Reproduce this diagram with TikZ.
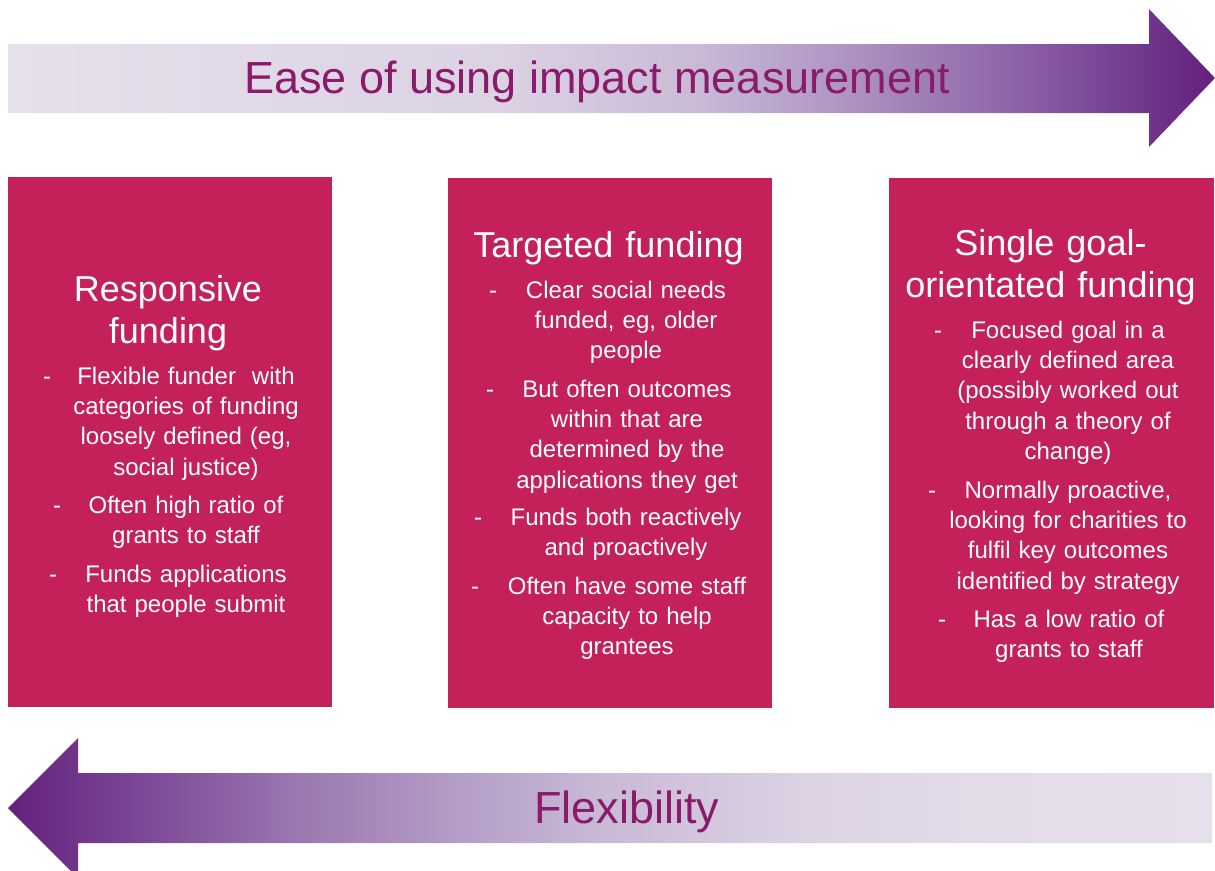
\documentclass[tikz,border=0pt]{standalone}
\usepackage{fontspec}
\setmainfont{Liberation Sans}
\definecolor{lav}{HTML}{E6E0EC}
\definecolor{lavb}{HTML}{DBD2E3}
\definecolor{lavc}{HTML}{C9B9D6}
\definecolor{lavd}{HTML}{AD93C2}
\definecolor{lave}{HTML}{9068AA}
\definecolor{lavf}{HTML}{70358B}
\definecolor{pdark}{HTML}{63207E}
\definecolor{fa}{HTML}{7E4B98}
\definecolor{fb}{HTML}{9A78B1}
\definecolor{fc}{HTML}{B39CC6}
\definecolor{fd}{HTML}{C8B9D5}
\definecolor{fe}{HTML}{DCD2E3}
\definecolor{ff}{HTML}{E3DCE9}
\definecolor{boxred}{HTML}{C4205A}
\definecolor{plumtext}{HTML}{8A1A6A}
\pgfdeclarehorizontalshading{easeshade}{100bp}{color(0bp)=(lav); color(25bp)=(lav); color(45.4bp)=(lavb); color(53.7bp)=(lavc); color(59.9bp)=(lavd); color(66.1bp)=(lave); color(72.3bp)=(lavf); color(75bp)=(pdark); color(100bp)=(pdark)}
\pgfdeclarehorizontalshading{flexshade}{100bp}{color(0bp)=(pdark); color(25bp)=(pdark); color(31bp)=(fa); color(37bp)=(fb); color(43.5bp)=(fc); color(49.5bp)=(fd); color(58bp)=(fe); color(66bp)=(ff); color(75bp)=(lav); color(100bp)=(lav)}
\newcommand\bodysize{\fontsize{18pt}{22.8pt}\selectfont}
\newcommand\titlesize{\fontsize{27pt}{31.5pt}\selectfont}
\newcommand\arrowsize{\fontsize{33.75pt}{40pt}\selectfont}
\tikzset{
  box/.style={fill=boxred, draw=none, anchor=north west, minimum width=243pt, minimum height=397.5pt, inner sep=0pt},
  bullettext/.style={text=white, font=\bodysize, align=center, anchor=base, inner sep=0pt, text width=230pt},
  titletext/.style={text=white, font=\titlesize, align=center, anchor=base, inner sep=0pt, text width=240pt},
  dashmark/.style={text=white, font=\bodysize, anchor=base, inner sep=0pt},
  arrowtext/.style={text=plumtext, font=\arrowsize, anchor=base, inner sep=0pt}
}
\begin{document}
\begin{tikzpicture}[x=0.75pt, y=-0.75pt]
\useasboundingbox (0,0) rectangle (1215,871);
\clip (0,0) rectangle (1215,871);
% arrows
\path[shading=easeshade] (8,44) -- (1149,44) -- (1149,9) -- (1215,78) -- (1149,147) -- (1149,113) -- (8,113) -- cycle;
\path[shading=flexshade] (1212,773) -- (78,773) -- (78,738) -- (8,808) -- (78,878) -- (78,843) -- (1212,843) -- cycle;
\node[arrowtext] (ease) at (597,93) {Ease of using impact measurement};
\node[arrowtext] (flex) at (627,823) {Flexibility};
% boxes
\node[box] (box1) at (8,177) {};
\node[box] (box2) at (448,178) {};
\node[box, minimum width=243.75pt] (box3) at (889,178) {};
% box 1
\node[titletext] (t1) at (168,301) {Responsive\\funding};
\node[bullettext] (b11) at (186,384) {Flexible funder\ \ with\\categories of funding\\loosely defined (eg,\\social justice)};
\node[dashmark] (d11) at (47,384) {-};
\node[bullettext] (b12) at (186,513) {Often high ratio of\\grants to staff};
\node[dashmark] (d12) at (57,513) {-};
\node[bullettext] (b13) at (186,582) {Funds applications\\that people submit};
\node[dashmark] (d13) at (53,582) {-};
% box 2
\node[titletext] (t2) at (608.5,257) {Targeted funding};
\node[bullettext] (b21) at (626,298) {Clear social needs\\funded,\ eg, older\\people};
\node[dashmark] (d21) at (493,298) {-};
\node[bullettext] (b22) at (627,397) {But often outcomes\\within that are\\determined by the\\applications they get};
\node[dashmark] (d22) at (490,397) {-};
\node[bullettext] (b23) at (626,525) {Funds both reactively\\and proactively};
\node[dashmark] (d23) at (478,525) {-};
\node[bullettext] (b24) at (627,594) {Often have some staff\\capacity to help\\grantees};
\node[dashmark] (d24) at (475,594) {-};
% box 3
\node[titletext] (t3) at (1050.5,255) {Single goal-\\orientated funding};
\node[bullettext] (b31) at (1068,338) {Focused goal in a\\clearly defined area\\(possibly worked out\\through a theory of\\change)};
\node[dashmark] (d31) at (938,338) {-};
\node[bullettext] (b32) at (1068,498) {Normally proactive,\\looking for charities to\\fulfil key outcomes\\identified by strategy};
\node[dashmark] (d32) at (932,498) {-};
\node[bullettext] (b33) at (1069,627) {Has a low ratio of\\grants to staff};
\node[dashmark] (d33) at (942,627) {-};
\end{tikzpicture}
\end{document}
